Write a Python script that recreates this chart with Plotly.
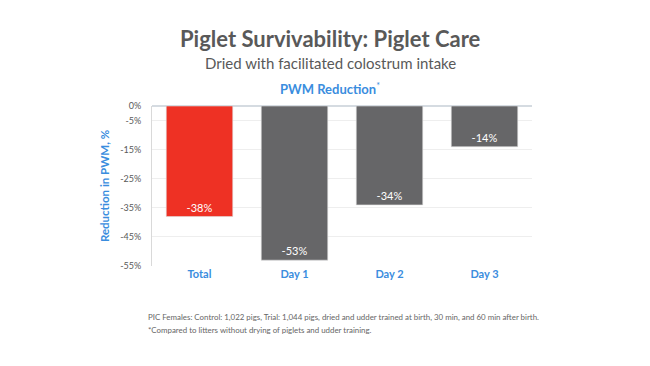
import plotly.graph_objects as go

categories = ["Total", "Day 1", "Day 2", "Day 3"]
values = [-38, -53, -34, -14]
bar_labels = ["-38%", "-53%", "-34%", "-14%"]
bar_colors = ["#EE3124", "#666668", "#666668", "#666668"]
tick_vals = [0, -5, -15, -25, -35, -45, -55]
tick_text = ["0%", "-5%", "-15%", "-25%", "-35%", "-45%", "-55%"]

W, H = 650, 366
L, R, T, B = 152, 118, 106, 100
PW, PH = W - L - R, H - T - B

def px(x):
    return (x - L) / PW

def py(y):
    return (H - B - y) / PH

FONT = "Lato"
GRAY = "#595959"
BLUE = "#3A8DDE"

fig = go.Figure(go.Bar(
    x=categories, y=values, marker=dict(color=bar_colors, line=dict(color="#dddddd", width=0.6)),
    text=bar_labels, textposition="inside", insidetextanchor="end",
    textfont=dict(color="white", size=11, family=FONT), width=0.7,
))

fig.update_layout(
    width=W, height=H, margin=dict(l=L, r=R, t=T, b=B, autoexpand=False),
    paper_bgcolor="white", plot_bgcolor="white", showlegend=False,
    font=dict(family=FONT, color=GRAY),
    xaxis=dict(showgrid=False, tickfont=dict(color=BLUE, size=11, family=FONT, weight="bold"),
               ticks="", showline=False, automargin=False),
    yaxis=dict(range=[-55, 0], tickvals=tick_vals, ticktext=tick_text, automargin=False,
               tickfont=dict(color=GRAY, size=9), showgrid=True, gridcolor="#eeeeee",
               zeroline=True, zerolinecolor="#d5dbe1", zerolinewidth=1.5,
               showline=True, linecolor="#d9d9d9", linewidth=1, ticks="", ticklabelstandoff=8,
               title=dict(text="<b>Reduction in PWM, %</b>", font=dict(color=BLUE, size=11.5), standoff=8)),
)

annos = [
    dict(text="<b>Piglet Survivability: Piglet Care</b>", x=px(330), y=py(38), size=22, color=GRAY),
    dict(text="Dried with facilitated colostrum intake", x=px(330), y=py(63), size=15, color=GRAY),
    dict(text="<b>PWM Reduction</b><sup>*</sup>", x=px(330), y=py(88), size=13, color=BLUE),
]
for a in annos:
    fig.add_annotation(text=a["text"], x=a["x"], y=a["y"], xref="paper", yref="paper",
                       xanchor="center", yanchor="middle", showarrow=False,
                       font=dict(size=a["size"], color=a["color"], family=FONT))

foot = [
    "PIC Females: Control: 1,022 pigs, Trial: 1,044 pigs, dried and udder trained at birth, 30 min, and 60 min after birth.",
    "*Compared to litters without drying of piglets and udder training.",
]
for i, t in enumerate(foot):
    fig.add_annotation(text=t, x=px(146), y=py(317 + 13 * i), xref="paper", yref="paper",
                       xanchor="left", yanchor="middle", showarrow=False,
                       font=dict(size=7.9, color="#666666", family=FONT))

fig.write_html("out.html", config={"displayModeBar": False},
               post_script="document.body.style.margin='0';")
